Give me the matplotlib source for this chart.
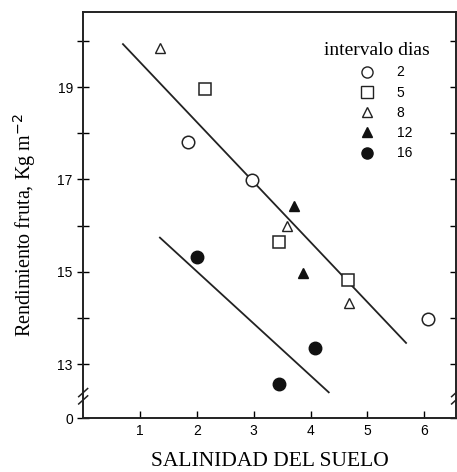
import matplotlib.pyplot as plt
from matplotlib.lines import Line2D

# interval (days) series: salinity x, yield y
sal_2 = [1.84, 2.97, 6.06]
ren_2 = [17.8, 16.98, 13.98]
sal_5 = [2.14, 3.44, 4.65]
ren_5 = [18.96, 15.65, 14.83]
sal_8 = [1.35, 3.58, 4.68]
ren_8 = [19.85, 16.0, 14.33]
sal_12 = [3.70, 3.86]
ren_12 = [16.43, 14.98]
sal_16 = [2.0, 4.07, 3.44]
ren_16 = [15.33, 13.35, 12.57]

# fitted lines (end points)
fit_hi_x = [0.70, 5.68]
fit_hi_y = [19.93, 13.46]
fit_lo_x = [1.35, 4.32]
fit_lo_y = [15.74, 12.39]

leg_labels = ['2', '5', '8', '12', '16']

serif = 'Liberation Serif'
sans = 'Liberation Sans'

fig = plt.figure(figsize=(4.57, 4.72), dpi=100)
ax = fig.add_axes([0.182, 0.114, 0.816, 0.861])

ax.plot(fit_hi_x, fit_hi_y, color='#222', lw=1.3)
ax.plot(fit_lo_x, fit_lo_y, color='#222', lw=1.3)

ms = 9
ax.plot(sal_2, ren_2, 'o', mfc='white', mec='#222', mew=1.1, ms=ms, ls='none')
ax.plot(sal_5, ren_5, 's', mfc='white', mec='#222', mew=1.1, ms=ms, ls='none')
ax.plot(sal_8, ren_8, '^', mfc='white', mec='#222', mew=1.0, ms=7.5, ls='none')
ax.plot(sal_12, ren_12, '^', mfc='#111', mec='#111', ms=7.5, ls='none')
ax.plot(sal_16, ren_16, 'o', mfc='#111', mec='#111', ms=ms, ls='none')

ax.set_xlim(0, 6.56)
ax.set_ylim(11.83, 20.63)

ax.set_xticks([1, 2, 3, 4, 5, 6])
ax.set_yticks([11.83, 13, 15, 17, 19])
ax.set_yticklabels(['0', '13', '15', '17', '19'])
ax.set_yticks([14, 16, 18, 20], minor=True)
ax.tick_params(axis='x', direction='in', length=5, width=1, labelsize=10, pad=4)
ax.tick_params(axis='y', which='both', direction='inout', length=8, width=1,
               labelsize=10, right=True)
for lab in ax.get_xticklabels() + ax.get_yticklabels():
    lab.set_fontfamily(sans)
for s in ax.spines.values():
    s.set_linewidth(1.4)
    s.set_color('#222')

# axis break marks
for xb in (0, 1):
    for dy in (0.0, 0.018):
        ax.plot([xb - 0.012, xb + 0.012], [0.035 + dy, 0.055 + dy],
                transform=ax.transAxes, color='#222', lw=1.1, clip_on=False)

ax.set_xlabel('SALINIDAD DEL SUELO', fontfamily=serif, fontsize=15.5, labelpad=10)
ax.set_ylabel('Rendimiento fruta, Kg m$^{-2}$', fontfamily=serif, fontsize=14.5)
ax.yaxis.set_label_coords(-0.12, 0.475)

handles = [
    Line2D([], [], marker='o', mfc='white', mec='#222', ls='none', ms=8),
    Line2D([], [], marker='s', mfc='white', mec='#222', ls='none', ms=8),
    Line2D([], [], marker='^', mfc='white', mec='#222', ls='none', ms=7),
    Line2D([], [], marker='^', mfc='#111', mec='#111', ls='none', ms=7),
    Line2D([], [], marker='o', mfc='#111', mec='#111', ls='none', ms=8),
]
ax.text(0.93, 0.905, 'intervalo dias', transform=ax.transAxes, ha='right',
        va='center', fontfamily=serif, fontsize=14)
ax.legend(handles, leg_labels, loc='upper left', bbox_to_anchor=(0.725, 0.885),
          frameon=False, handlelength=1.0, handletextpad=1.6, labelspacing=0.45,
          borderpad=0, prop={'family': sans, 'size': 10})

fig.savefig('out.png', dpi=100)
